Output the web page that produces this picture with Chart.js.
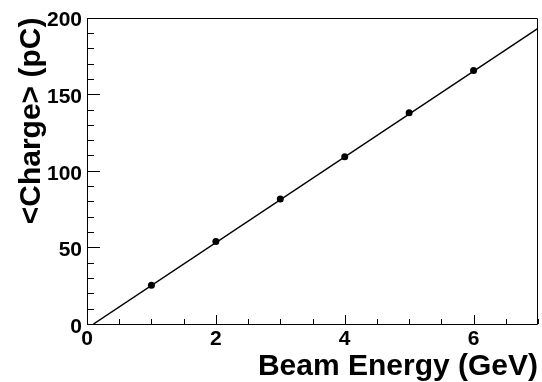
<!DOCTYPE html>
<html>
<head>
<meta charset="utf-8">
<script src="https://cdn.jsdelivr.net/npm/chart.js@4"></script>
<style>
html,body{margin:0;padding:0;background:#fff;}
#wrap{width:542px;height:382px;position:relative;}
</style>
</head>
<body>
<div id="wrap"><canvas id="c"></canvas></div>
<script>
// Data
const energy = [1, 2, 3, 4, 5, 6];
const charge = [25.3, 53.9, 81.6, 109.2, 137.9, 165.5];
// Linear fit line end points
const fitEnergy = [0.1, 7];
const fitCharge = [0, 193];
// Axis ticks
const xTickLabels = [0, 2, 4, 6];
const yTickLabels = [0, 50, 100, 150, 200];
const xMinorStep = 0.5;
const yMinorStep = 10;

const FONT = "'Liberation Sans', Arial, Helvetica, sans-serif";

const frameTicks = {
  id: 'frameTicks',
  afterDatasetsDraw(chart) {
    const {ctx, chartArea: a, scales: {x, y}} = chart;
    ctx.save();
    ctx.strokeStyle = '#000';
    ctx.lineWidth = 1;
    ctx.beginPath();
    // frame
    ctx.rect(Math.round(a.left) + 0.5, Math.round(a.top) + 0.5,
             Math.round(a.right - a.left) - 1, Math.round(a.bottom - a.top));
    // y ticks (inward)
    for (let v = y.min; v <= y.max + 1e-9; v += yMinorStep) {
      const py = Math.round(y.getPixelForValue(v)) + 0.5;
      const major = yTickLabels.some(t => Math.abs(t - v) < 1e-6);
      const len = major ? 13 : 7;
      ctx.moveTo(a.left, py);
      ctx.lineTo(a.left + len, py);
    }
    // x ticks (inward)
    for (let v = x.min; v <= x.max + 1e-9; v += xMinorStep) {
      const px = Math.round(x.getPixelForValue(v)) + 0.5;
      const major = xTickLabels.some(t => Math.abs(t - v) < 1e-6);
      const len = major ? 9 : 5;
      ctx.moveTo(px, a.bottom);
      ctx.lineTo(px, a.bottom - len);
    }
    ctx.stroke();
    ctx.restore();
  }
};

new Chart(document.getElementById('c'), {
  type: 'scatter',
  data: {
    datasets: [
      {
        label: 'fit',
        data: fitEnergy.map((e, i) => ({x: e, y: fitCharge[i]})),
        showLine: true,
        borderColor: '#000',
        borderWidth: 1.5,
        pointRadius: 0,
        fill: false
      },
      {
        label: 'data',
        data: energy.map((e, i) => ({x: e, y: charge[i]})),
        showLine: false,
        backgroundColor: '#000',
        borderColor: '#000',
        pointRadius: 3.5,
        pointBorderWidth: 0
      }
    ]
  },
  options: {
    responsive: true,
    maintainAspectRatio: false,
    animation: false,
    layout: {padding: {top: 16, right: 2, left: 0, bottom: 0}},
    plugins: {legend: {display: false}, tooltip: {enabled: false}},
    scales: {
      x: {
        type: 'linear',
        min: 0, max: 7,
        grid: {display: false, drawTicks: false},
        border: {display: false},
        afterBuildTicks: s => { s.ticks = xTickLabels.map(v => ({value: v})); },
        afterFit: s => { s.height = 58; },
        ticks: {
          autoSkip: false, maxRotation: 0, padding: 3,
          color: '#000',
          font: {family: FONT, size: 21, weight: 'bold'}
        },
        title: {
          display: true, text: 'Beam Energy (GeV)', align: 'end',
          color: '#000', padding: 0,
          font: {family: FONT, size: 30, weight: 'bold', lineHeight: 1.0}
        }
      },
      y: {
        type: 'linear',
        min: 0, max: 200,
        grid: {display: false, drawTicks: false},
        border: {display: false},
        afterBuildTicks: s => { s.ticks = yTickLabels.map(v => ({value: v})); },
        afterFit: s => { s.width = 87; },
        ticks: {
          autoSkip: false, padding: 5, labelOffset: 3,
          color: '#000',
          font: {family: FONT, size: 21, weight: 'bold'}
        },
        title: {
          display: true, text: '<Charge> (pC)', align: 'end',
          color: '#000', padding: 0,
          font: {family: FONT, size: 30, weight: 'bold', lineHeight: 2.1}
        }
      }
    }
  },
  plugins: [frameTicks]
});
</script>
</body>
</html>
